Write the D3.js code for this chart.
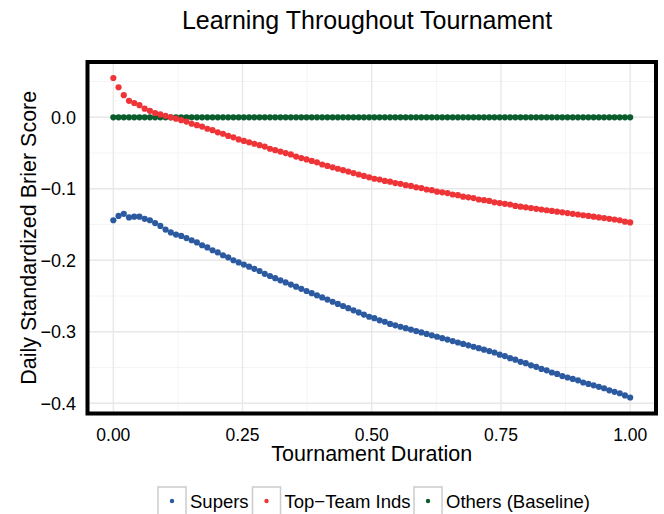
<!DOCTYPE html>
<html>
<head>
<meta charset="utf-8">
<script src="https://cdn.jsdelivr.net/npm/d3@7"></script>
<style>
  body { margin: 0; background: #fff; }
  text { font-family: "Liberation Sans", Arial, Helvetica, sans-serif; fill: #000; }
</style>
</head>
<body>
<script>
const width = 664;
const height = 514;

// series, one value per day (100 days scaled to 0..1)
const supers = [
  -0.144, -0.138, -0.135, -0.140, -0.139, -0.139, -0.142, -0.144, -0.148, -0.152,
  -0.157, -0.161, -0.164, -0.166, -0.169, -0.172, -0.175, -0.179, -0.182, -0.186,
  -0.189, -0.193, -0.196, -0.200, -0.203, -0.206, -0.209, -0.212, -0.215, -0.219,
  -0.222, -0.225, -0.228, -0.231, -0.234, -0.237, -0.240, -0.243, -0.246, -0.249,
  -0.252, -0.255, -0.258, -0.261, -0.264, -0.267, -0.270, -0.273, -0.276, -0.279,
  -0.281, -0.284, -0.286, -0.289, -0.291, -0.293, -0.295, -0.297, -0.299, -0.301,
  -0.303, -0.305, -0.307, -0.309, -0.311, -0.313, -0.315, -0.317, -0.319, -0.321,
  -0.323, -0.325, -0.327, -0.329, -0.332, -0.334, -0.337, -0.339, -0.342, -0.344,
  -0.347, -0.349, -0.352, -0.354, -0.357, -0.359, -0.362, -0.364, -0.366, -0.368,
  -0.371, -0.373, -0.375, -0.377, -0.379, -0.382, -0.384, -0.386, -0.389, -0.392
];
const topTeam = [
  0.055, 0.042, 0.031, 0.023, 0.020, 0.017, 0.012, 0.009, 0.006, 0.004,
  0.002, 0.000, -0.002, -0.004, -0.006, -0.009, -0.011, -0.013, -0.016, -0.018,
  -0.021, -0.023, -0.026, -0.028, -0.031, -0.033, -0.035, -0.037, -0.039, -0.041,
  -0.044, -0.046, -0.048, -0.050, -0.052, -0.055, -0.057, -0.059, -0.061, -0.063,
  -0.066, -0.068, -0.070, -0.072, -0.074, -0.076, -0.078, -0.080, -0.082, -0.084,
  -0.086, -0.087, -0.089, -0.090, -0.092, -0.093, -0.095, -0.096, -0.098, -0.099,
  -0.101, -0.102, -0.104, -0.105, -0.106, -0.108, -0.109, -0.111, -0.112, -0.113,
  -0.115, -0.116, -0.117, -0.119, -0.120, -0.121, -0.122, -0.124, -0.125, -0.126,
  -0.127, -0.128, -0.129, -0.130, -0.131, -0.132, -0.133, -0.134, -0.135, -0.136,
  -0.137, -0.138, -0.139, -0.140, -0.141, -0.142, -0.143, -0.144, -0.146, -0.147
];
const others = [
  0, 0, 0, 0, 0, 0, 0, 0, 0, 0,
  0, 0, 0, 0, 0, 0, 0, 0, 0, 0,
  0, 0, 0, 0, 0, 0, 0, 0, 0, 0,
  0, 0, 0, 0, 0, 0, 0, 0, 0, 0,
  0, 0, 0, 0, 0, 0, 0, 0, 0, 0,
  0, 0, 0, 0, 0, 0, 0, 0, 0, 0,
  0, 0, 0, 0, 0, 0, 0, 0, 0, 0,
  0, 0, 0, 0, 0, 0, 0, 0, 0, 0,
  0, 0, 0, 0, 0, 0, 0, 0, 0, 0,
  0, 0, 0, 0, 0, 0, 0, 0, 0, 0
];

const seriesNames = ['Supers', 'Top\u2212Team Inds', 'Others (Baseline)'];
const seriesColors = ['#2c5aa0', '#ee3437', '#0b5c2d'];
const xTicks = [0, 0.25, 0.5, 0.75, 1];
const xMinor = [0.125, 0.375, 0.625, 0.875];
const yTicks = [0, -0.1, -0.2, -0.3, -0.4];
const yMinor = [0.05, -0.05, -0.15, -0.25, -0.35];

const series = [supers, topTeam, others].map(function (vals, k) {
    return {
        name: seriesNames[k],
        color: seriesColors[k],
        points: vals.map(function (v, i) { return {x: i / (vals.length - 1), y: v}; })
    };
});

const panel = {left: 87.5, right: 656, top: 62, bottom: 413.5};

// ggplot style 5% expansion
const yMin = d3.min(series, s => d3.min(s.points, p => p.y));
const yMax = d3.max(series, s => d3.max(s.points, p => p.y));
const yPad = (yMax - yMin) * 0.05;

const x = d3.scaleLinear().domain([-0.05, 1.05]).range([panel.left, panel.right]);
const y = d3.scaleLinear().domain([yMin - yPad, yMax + yPad]).range([panel.bottom, panel.top]);

const fmtX = d3.format('.2f');
const fmtY = v => d3.format('.1f')(v).replace('-', '\u2212');

const svg = d3.select('body').append('svg')
    .attr('width', width)
    .attr('height', height);

svg.append('rect')
    .attr('width', width).attr('height', height).attr('fill', '#fff');

// grid
const grid = svg.append('g');
grid.selectAll('.xminor').data(xMinor).enter().append('line')
    .attr('x1', d => x(d)).attr('x2', d => x(d))
    .attr('y1', panel.top).attr('y2', panel.bottom)
    .attr('stroke', '#f4f4f4').attr('stroke-width', 1);
grid.selectAll('.yminor').data(yMinor).enter().append('line')
    .attr('y1', d => y(d)).attr('y2', d => y(d))
    .attr('x1', panel.left).attr('x2', panel.right)
    .attr('stroke', '#f4f4f4').attr('stroke-width', 1);
grid.selectAll('.xmajor').data(xTicks).enter().append('line')
    .attr('x1', d => x(d)).attr('x2', d => x(d))
    .attr('y1', panel.top).attr('y2', panel.bottom)
    .attr('stroke', '#e8e8e8').attr('stroke-width', 1.4);
grid.selectAll('.ymajor').data(yTicks).enter().append('line')
    .attr('y1', d => y(d)).attr('y2', d => y(d))
    .attr('x1', panel.left).attr('x2', panel.right)
    .attr('stroke', '#e8e8e8').attr('stroke-width', 1.4);

// points: baseline first, then supers, then top-team on top
const drawOrder = [series[2], series[0], series[1]];
drawOrder.forEach(function (s) {
    svg.append('g')
        .attr('fill', s.color)
        .selectAll('circle')
        .data(s.points)
        .enter().append('circle')
        .attr('cx', d => x(d.x))
        .attr('cy', d => y(d.y))
        .attr('r', 3.1);
});

// panel border
svg.append('rect')
    .attr('x', panel.left).attr('y', panel.top)
    .attr('width', panel.right - panel.left)
    .attr('height', panel.bottom - panel.top)
    .attr('fill', 'none')
    .attr('stroke', '#000')
    .attr('stroke-width', 4);

// tick labels
svg.append('g').selectAll('text').data(xTicks).enter().append('text')
    .attr('x', d => x(d)).attr('y', 441)
    .attr('text-anchor', 'middle')
    .attr('font-size', 17.5)
    .text(fmtX);
svg.append('g').selectAll('text').data(yTicks).enter().append('text')
    .attr('x', 76).attr('y', d => y(d))
    .attr('dy', '0.36em')
    .attr('text-anchor', 'end')
    .attr('font-size', 18)
    .text(fmtY);

// titles
const cx = (panel.left + panel.right) / 2;
svg.append('text')
    .attr('x', 367).attr('y', 29)
    .attr('text-anchor', 'middle')
    .attr('font-size', 25)
    .text('Learning Throughout Tournament');
svg.append('text')
    .attr('x', cx).attr('y', 461)
    .attr('text-anchor', 'middle')
    .attr('font-size', 21.5)
    .text('Tournament Duration');
svg.append('text')
    .attr('transform', 'translate(36,' + ((panel.top + panel.bottom) / 2) + ') rotate(-90)')
    .attr('text-anchor', 'middle')
    .attr('font-size', 21.5)
    .text('Daily Standardized Brier Score');

// legend
const legendX = [158, 252.5, 414];
const legend = svg.append('g').selectAll('g').data(series).enter().append('g')
    .attr('transform', (d, i) => 'translate(' + legendX[i] + ',487)');
legend.append('rect')
    .attr('width', 28).attr('height', 28)
    .attr('fill', '#fff')
    .attr('stroke', '#cccccc')
    .attr('stroke-width', 1.5);
legend.append('circle')
    .attr('cx', 14).attr('cy', 14).attr('r', 2.2)
    .attr('fill', d => d.color);
legend.append('text')
    .attr('x', 32).attr('y', 14)
    .attr('dy', '0.36em')
    .attr('font-size', 18.5)
    .text(d => d.name);
</script>
</body>
</html>
